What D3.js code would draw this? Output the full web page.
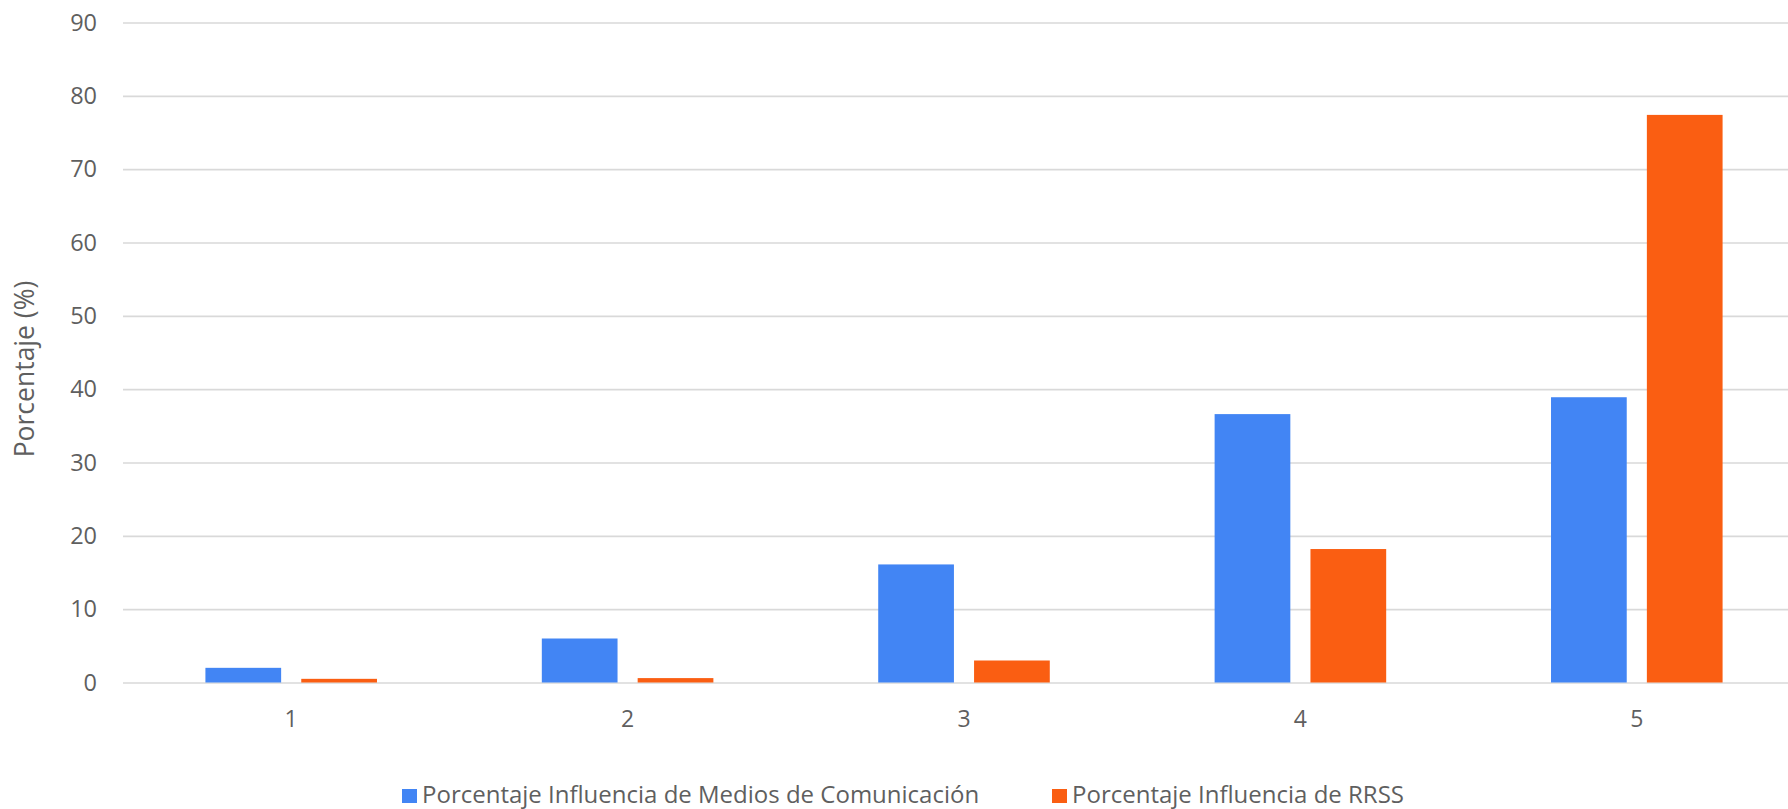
<!DOCTYPE html>
<html>
<head>
<meta charset="utf-8">
<script src="https://cdn.jsdelivr.net/npm/d3@7"></script>
<style>
  html, body { margin: 0; padding: 0; background: #ffffff; }
  svg { display: block; font-family: "Open Sans", sans-serif; }
</style>
</head>
<body>
<svg id="chart" width="1788" height="809"></svg>
<script>
const categories = ["1", "2", "3", "4", "5"];
const seriesNames = ["Porcentaje Influencia de Medios de Comunicación", "Porcentaje Influencia de RRSS"];
const mediosValues = [2.0, 6.0, 16.1, 36.6, 38.9];
const rrssValues = [0.5, 0.6, 3.0, 18.2, 77.4];
const yTicks = [0, 10, 20, 30, 40, 50, 60, 70, 80, 90];
const colors = ["#4285f4", "#fa5e12"];
const yTitle = "Porcentaje (%)";

const rows = categories.map((c, i) => ({ cat: c, values: [mediosValues[i], rrssValues[i]] }));

const svg = d3.select("#chart");
const plotLeft = 123, plotRight = 1805, plotTop = 22.5, plotBottom = 682.5;
const textColor = "#5f5f5f";

const x0 = d3.scaleBand().domain(categories).range([plotLeft, plotRight]).paddingInner(0.49).paddingOuter(0.245);
const x1 = d3.scaleBand().domain([0, 1]).range([0, x0.bandwidth()]).paddingInner(0.21);
const y = d3.scaleLinear().domain([0, 90]).range([plotBottom, plotTop]);

// gridlines + y axis labels
const yAxis = d3.axisLeft(y).tickValues(yTicks).tickSize(-(plotRight - plotLeft)).tickPadding(26);
const gy = svg.append("g").attr("transform", `translate(${plotLeft},0)`).call(yAxis);
gy.select(".domain").remove();
gy.selectAll(".tick line").attr("stroke", "#d9d9d9").attr("stroke-width", 1.6);
gy.selectAll(".tick text").attr("fill", textColor).style("font-size", "23.5px").style("font-family", "'Open Sans', sans-serif");

// x axis labels
const xAxis = d3.axisBottom(x0).tickSize(0).tickPadding(28);
const gx = svg.append("g").attr("transform", `translate(0,${plotBottom})`).call(xAxis);
gx.select(".domain").remove();
gx.selectAll(".tick text").attr("fill", textColor).style("font-size", "23px").style("font-family", "'Open Sans', sans-serif");

// bars
const groups = svg.append("g").selectAll("g").data(rows).join("g")
  .attr("transform", d => `translate(${x0(d.cat)},0)`);
groups.selectAll("rect").data(d => d.values.map((v, k) => ({ k, v }))).join("rect")
  .attr("x", d => x1(d.k))
  .attr("width", x1.bandwidth())
  .attr("y", d => y(d.v))
  .attr("height", d => y(0) - y(d.v))
  .attr("fill", d => colors[d.k]);

// y title
svg.append("text")
  .attr("transform", `translate(34,369) rotate(-90)`)
  .attr("text-anchor", "middle")
  .attr("fill", textColor)
  .style("font-size", "26.5px")
  .text(yTitle);

// legend
const legendX = [402, 1052];
seriesNames.forEach((name, k) => {
  const g = svg.append("g").attr("transform", `translate(${legendX[k]},0)`);
  g.append("rect").attr("x", 0).attr("y", 789).attr("width", 15).attr("height", 14).attr("fill", colors[k]);
  g.append("text").attr("x", 20).attr("y", 802.5).attr("fill", textColor)
    .style("font-size", "24px").text(name);
});
</script>
</body>
</html>
